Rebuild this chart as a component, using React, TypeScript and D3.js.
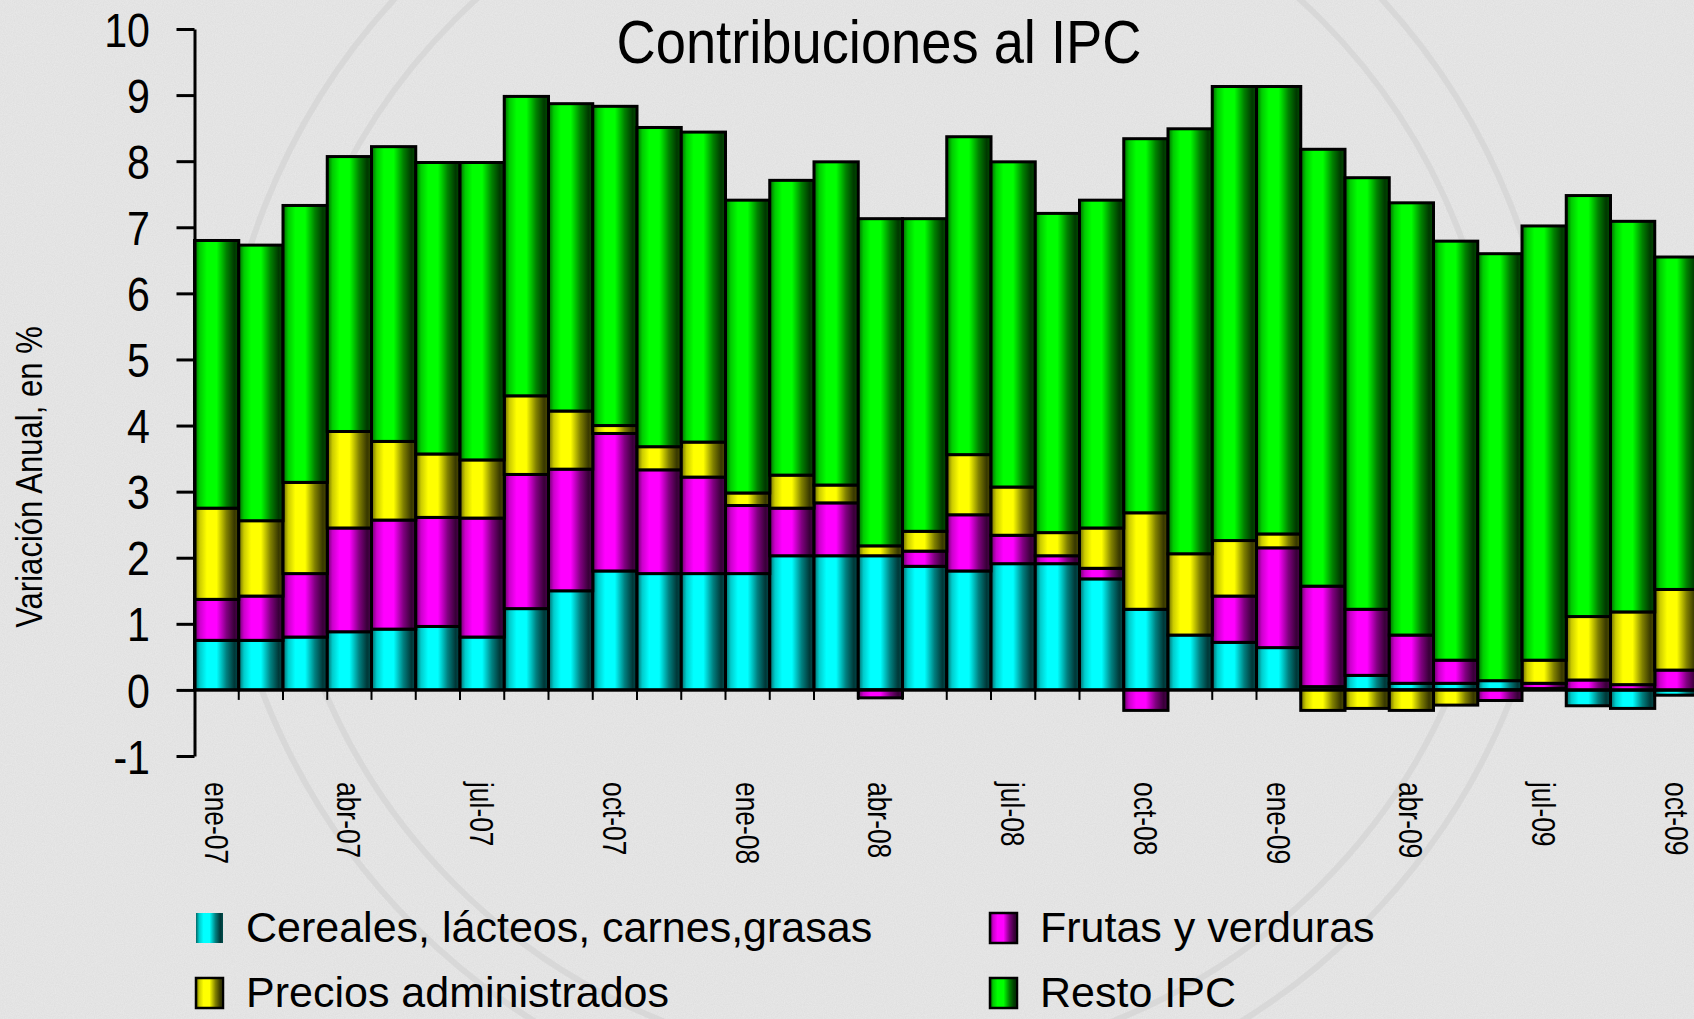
import React, { useEffect, useRef } from 'react';
import * as d3 from 'd3';

const months = [
  'ene-07', 'feb-07', 'mar-07', 'abr-07', 'may-07', 'jun-07', 'jul-07', 'ago-07', 'sep-07', 'oct-07', 'nov-07', 'dic-07',
  'ene-08', 'feb-08', 'mar-08', 'abr-08', 'may-08', 'jun-08', 'jul-08', 'ago-08', 'sep-08', 'oct-08', 'nov-08', 'dic-08',
  'ene-09', 'feb-09', 'mar-09', 'abr-09', 'may-09', 'jun-09', 'jul-09', 'ago-09', 'sep-09', 'oct-09',
];
const labelMonths = months.filter((_, i) => i % 3 === 0);

const cereales = [0.75, 0.75, 0.80, 0.88, 0.92, 0.96, 0.80, 1.23, 1.50, 1.80, 1.76, 1.76, 1.76, 2.03, 2.03, 2.03, 1.87, 1.80, 1.91, 1.91, 1.68, 1.22, 0.83, 0.72, 0.64, 0.05, 0.22, 0.10, 0.10, 0.14, 0.02, -0.24, -0.28, -0.08];
const frutas = [0.62, 0.67, 0.96, 1.57, 1.65, 1.65, 1.80, 2.03, 1.84, 2.08, 1.57, 1.46, 1.03, 0.72, 0.80, -0.12, 0.23, 0.85, 0.43, 0.12, 0.16, -0.31, 0, 0.70, 1.51, 1.52, 1.00, 0.73, 0.35, -0.16, 0.08, 0.15, 0.08, 0.30];
const administrados = [1.38, 1.14, 1.38, 1.46, 1.19, 0.96, 0.88, 1.19, 0.88, 0.12, 0.35, 0.53, 0.19, 0.50, 0.27, 0.15, 0.30, 0.91, 0.73, 0.35, 0.61, 1.46, 1.23, 0.84, 0.21, -0.31, -0.28, -0.31, -0.23, 0, 0.35, 0.96, 1.10, 1.22];
const resto = [4.05, 4.17, 4.19, 4.16, 4.46, 4.41, 4.50, 4.53, 4.65, 4.83, 4.83, 4.69, 4.43, 4.46, 4.89, 4.95, 4.73, 4.81, 4.92, 4.83, 4.96, 5.66, 6.43, 6.87, 6.77, 6.61, 6.53, 6.54, 6.34, 6.46, 6.57, 6.37, 5.91, 5.03];

const seriesNames = ['Cereales, lácteos, carnes,grasas', 'Frutas y verduras', 'Precios administrados', 'Resto IPC'];
const seriesColors = ['#00ffff', '#ff00ff', '#ffff00', '#00ff00'];
const yTicks = [-1, 0, 1, 2, 3, 4, 5, 6, 7, 8, 9, 10];

const FONT = '"Liberation Sans", Arial, sans-serif';

export default function App() {
  const ref = useRef<SVGSVGElement>(null);

  const width = 1694, height = 1019;
  const marginLeft = 194.5;
  const step = 44.25;

  useEffect(() => {
    const svg = d3.select(ref.current);
    svg.selectAll('*').remove();

    const keys = ['c', 'f', 'a', 'r'];
    const table = months.map((m, i) => ({
      month: m, c: cereales[i], f: frutas[i], a: administrados[i], r: resto[i],
    }));

    const x = d3.scaleBand<string>()
      .domain(months)
      .range([marginLeft, marginLeft + step * months.length])
      .padding(0);

    const y = d3.scaleLinear().domain([-1, 10]).range([756, 29]);

    const stack = d3.stack<any>().keys(keys).offset(d3.stackOffsetDiverging);
    const layers = stack(table);

    // background + paper noise
    const defs = svg.append('defs');
    const noise = defs.append('filter').attr('id', 'paper')
      .attr('x', 0).attr('y', 0).attr('width', '100%').attr('height', '100%');
    noise.append('feTurbulence').attr('type', 'fractalNoise')
      .attr('baseFrequency', 0.9).attr('numOctaves', 2).attr('seed', 4);
    noise.append('feColorMatrix').attr('type', 'matrix')
      .attr('values', '0 0 0 0 0.55  0 0 0 0 0.55  0 0 0 0 0.55  0 0 0 0.35 -0.05');

    seriesColors.forEach((c, i) => {
      const g = defs.append('linearGradient').attr('id', `grad${i}`)
        .attr('x1', 0).attr('x2', 1).attr('y1', 0).attr('y2', 0);
      const mix = d3.interpolateRgb('#000000', c);
      [[0, 0.4], [0.12, 0.8], [0.28, 1], [0.5, 1], [0.72, 0.5], [0.9, 0.22], [1, 0.3]]
        .forEach(([o, t]) => g.append('stop').attr('offset', o).attr('stop-color', mix(t)));
    });

    svg.append('rect').attr('width', width).attr('height', height).attr('fill', '#e8e8e8');
    svg.append('rect').attr('width', width).attr('height', height).attr('filter', 'url(#paper)');

    // faint seal watermark
    [670, 612].forEach(r => {
      svg.append('circle').attr('cx', 888).attr('cy', 452).attr('r', r)
        .attr('fill', 'none').attr('stroke', '#d3d3d3').attr('stroke-width', 6).attr('opacity', 0.7);
    });

    // title
    svg.append('text')
      .attr('transform', `translate(879,63) scale(0.89,1)`)
      .attr('text-anchor', 'middle')
      .attr('font-family', FONT).attr('font-size', 61).attr('fill', '#000')
      .text('Contribuciones al IPC');

    // bars
    layers.forEach((layer, li) => {
      svg.append('g')
        .selectAll('rect')
        .data(layer.filter(d => Math.abs(d[1] - d[0]) > 1e-9))
        .join('rect')
        .attr('x', d => x(d.data.month)!)
        .attr('width', x.bandwidth())
        .attr('y', d => y(Math.max(d[0], d[1])))
        .attr('height', d => Math.abs(y(d[0]) - y(d[1])))
        .attr('fill', `url(#grad${li})`)
        .attr('stroke', '#000')
        .attr('stroke-width', 3);
    });

    // y axis
    svg.append('g')
      .attr('transform', `translate(${marginLeft},0)`)
      .call(d3.axisLeft(y).tickValues(yTicks).tickSize(18).tickSizeOuter(0).tickFormat(() => ''))
      .call(g => {
        g.select('.domain').attr('stroke', '#000').attr('stroke-width', 3);
        g.selectAll('.tick line').attr('stroke', '#000').attr('stroke-width', 3);
      });

    svg.append('g').selectAll('text')
      .data(yTicks)
      .join('text')
      .attr('transform', d => `translate(150,${y(d)}) scale(0.84,1)`)
      .attr('text-anchor', 'end')
      .attr('dy', '0.36em')
      .attr('font-family', FONT).attr('font-size', 49).attr('fill', '#000')
      .text(d => String(d));

    // x axis at zero
    svg.append('line')
      .attr('x1', marginLeft).attr('x2', width)
      .attr('y1', y(0)).attr('y2', y(0))
      .attr('stroke', '#000').attr('stroke-width', 3);

    svg.append('g').selectAll('line')
      .data(months.slice(1))
      .join('line')
      .attr('x1', d => x(d)!).attr('x2', d => x(d)!)
      .attr('y1', y(0)).attr('y2', y(0) + 10)
      .attr('stroke', '#000').attr('stroke-width', 2);

    svg.append('g').selectAll('text')
      .data(labelMonths)
      .join('text')
      .attr('transform', d => `translate(${x(d)! + x.bandwidth() / 2},782) rotate(90) scale(0.8,1)`)
      .attr('text-anchor', 'start')
      .attr('dy', '0.36em')
      .attr('font-family', FONT).attr('font-size', 33).attr('fill', '#000')
      .text(d => d);

    // y title
    svg.append('text')
      .attr('transform', `translate(42,477) rotate(-90) scale(0.84,1)`)
      .attr('text-anchor', 'middle')
      .attr('font-family', FONT).attr('font-size', 37).attr('fill', '#000')
      .text('Variación Anual, en %');

    // legend
    const legendPos = [
      { x: 196, y: 942 }, { x: 990, y: 942 },
      { x: 196, y: 1007 }, { x: 990, y: 1007 },
    ];
    seriesNames.forEach((name, i) => {
      const p = legendPos[i];
      svg.append('rect')
        .attr('x', p.x).attr('y', p.y - 29).attr('width', 27).attr('height', 30)
        .attr('fill', `url(#grad${i})`)
        .attr('stroke', i === 0 ? 'none' : '#000').attr('stroke-width', 2.5);
      svg.append('text')
        .attr('x', p.x + 50).attr('y', p.y)
        .attr('font-family', FONT).attr('font-size', 43).attr('fill', '#000')
        .text(name);
    });
  }, []);

  return (
    <svg
      ref={ref}
      width={width}
      height={height}
      viewBox={`0 0 ${width} ${height}`}
      style={{ position: 'absolute', left: 0, top: 0, display: 'block' }}
    />
  );
}
